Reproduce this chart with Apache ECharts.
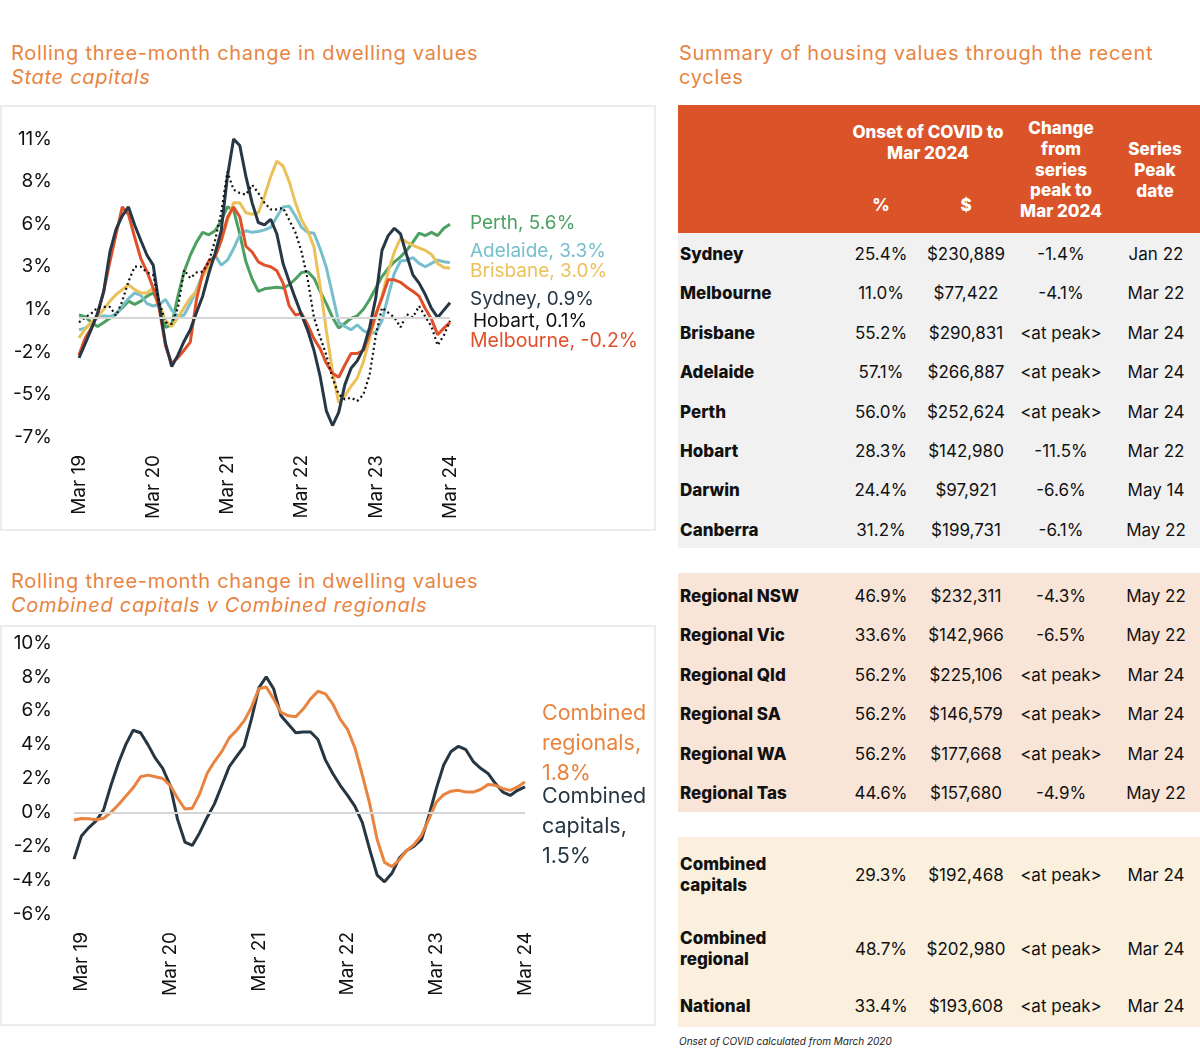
<!DOCTYPE html>
<html><head><meta charset="utf-8">
<script src="https://cdn.jsdelivr.net/npm/echarts/dist/echarts.min.js"></script>
<style>
html,body{margin:0;padding:0;background:#fff;}
#wrap{position:relative;width:1200px;height:1052px;overflow:hidden;font-family:Inter,"Noto Sans",sans-serif;color:#111;}
.panel{position:absolute;box-sizing:border-box;border:2px solid #ececec;}
#chart{position:absolute;left:0;top:0;width:660px;height:1052px;}
.title{position:absolute;font-size:20px;line-height:24px;color:#E8843F;white-space:nowrap;letter-spacing:0.7px;}
.title i{font-style:italic;}
.sec{position:absolute;left:678px;width:522px;}
.row{position:absolute;left:678px;width:522px;height:24px;line-height:24px;font-size:17px;}
.cell{position:absolute;top:0;transform:translateX(-50%);white-space:nowrap;}
.name{position:absolute;left:2px;top:0;font-weight:800;white-space:nowrap;}
.hd{position:absolute;color:#fff;font-weight:800;font-size:17px;line-height:20.8px;text-align:center;transform:translateX(-50%);white-space:nowrap;}
.foot{position:absolute;left:679px;top:1035px;font-size:10px;font-style:italic;color:#222;}
</style>
</head><body>
<div id="wrap">
  <div class="panel" style="left:0;top:105px;width:656px;height:426px;"></div>
  <div class="panel" style="left:0;top:625px;width:656px;height:401px;"></div>
  <div class="title" style="left:11px;top:41px;">Rolling three-month change in dwelling values<br><i>State capitals</i></div>
  <div class="title" style="left:11px;top:569px;">Rolling three-month change in dwelling values<br><i>Combined capitals v Combined regionals</i></div>
  <div class="title" style="left:679px;top:41px;">Summary of housing values through the recent<br>cycles</div>
  <div id="chart"></div>
  <div id="table"></div>
  <div class="foot">Onset of COVID calculated from March 2020</div>
</div>
<script>
// ---------- chart data ----------
const monthNames = ['Jan','Feb','Mar','Apr','May','Jun','Jul','Aug','Sep','Oct','Nov','Dec'];
function monthLabels(year, monthIdx, n) {
  const out = [];
  for (let k = 0; k < n; k++) {
    const m = (monthIdx + k) % 12, y = year + Math.floor((monthIdx + k) / 12);
    out.push(monthNames[m] + ' ' + String(y % 100).padStart(2, '0'));
  }
  return out;
}
const capitalMonths = monthLabels(2019, 2, 61);   // Mar 19 .. Mar 24
const combinedMonths = monthLabels(2019, 1, 62);  // Feb 19 .. Mar 24

const sydney = [-2.47,-1.6,-0.7,0.25,1.6,4.0,5.4,6.2,6.75,5.65,
  4.7,3.8,3.2,0.7,-1.6,-3.0,-2.3,-1.45,-0.75,0.3,
  1.3,2.7,3.9,5.3,8.6,10.9,10.5,8.6,7.0,5.8,
  5.65,6.0,5.1,3.3,2.2,1.15,0.15,-0.8,-2.0,-3.6,
  -5.7,-6.6,-5.8,-4.1,-3.1,-2.65,-1.9,-0.6,1.2,4.1,
  5.0,5.45,5.1,3.8,2.6,2.1,1.4,0.55,0.0,0.45,0.9];
const melbourne = [-2.3,-1.25,-0.65,0.2,1.6,3.4,5.1,6.75,6.3,4.9,
  3.6,2.8,1.8,0.5,-1.75,-2.8,-2.45,-2.0,-1.5,1.1,
  2.7,3.45,3.7,4.7,6.1,6.75,6.15,4.35,4.0,3.4,
  3.2,3.1,2.85,2.1,0.7,0.15,0.25,-0.45,-1.3,-1.9,
  -2.8,-3.4,-3.65,-2.9,-2.2,-2.2,-2.0,-1.0,0.2,1.2,
  2.3,2.3,2.15,1.85,1.6,1.3,0.55,-0.1,-1.05,-0.65,-0.3];
const brisbane = [-1.25,-0.7,-0.3,0.05,0.5,1.0,1.4,1.7,2.0,1.7,
  1.5,1.5,1.8,0.8,-0.2,-0.55,0.0,0.6,1.2,1.6,
  2.5,3.1,3.7,4.7,5.9,7.0,7.0,6.4,6.3,6.4,
  7.4,8.6,9.55,9.25,8.3,7.0,5.95,5.3,4.3,1.9,
  -0.8,-3.3,-5.2,-4.8,-4.2,-3.7,-2.7,-1.3,0.1,1.3,
  2.8,4.0,4.85,4.6,4.4,4.25,4.1,3.85,3.3,3.05,3.0];
const adelaide = [-0.75,-0.65,-0.35,0.0,0.1,0.05,0.2,0.7,1.15,1.5,
  1.35,0.85,0.7,0.8,1.1,0.45,0.05,0.15,0.85,1.7,
  2.6,3.4,3.8,3.2,3.5,4.2,5.05,5.3,5.2,5.25,
  5.35,5.5,6.15,6.75,6.8,6.2,5.5,5.2,5.15,4.2,
  3.05,1.4,-0.3,-0.55,-0.75,-0.45,-0.8,-1.0,-0.9,-0.2,
  1.3,2.7,3.45,3.5,3.65,3.3,3.1,3.3,3.5,3.4,3.35];
const perth = [0.15,0.05,-0.3,-0.55,-0.3,-0.05,0.25,0.6,1.0,0.8,
  1.0,1.3,1.5,0.85,-0.6,-0.45,1.3,2.8,3.8,4.6,
  5.2,5.05,5.3,5.9,6.75,6.55,5.1,3.4,2.35,1.6,
  1.75,1.8,1.85,1.8,2.0,2.35,2.75,2.8,2.4,1.6,
  0.85,0.0,-0.65,-0.35,-0.05,0.1,0.5,1.1,1.8,2.5,
  3.0,3.4,3.7,4.1,4.6,5.15,5.0,5.2,5.0,5.45,5.7];
const hobart = [-0.3,0.0,0.25,0.6,0.65,0.65,0.1,1.0,2.2,3.1,
  3.1,2.75,2.6,0.9,-0.3,-0.4,0.6,2.9,2.4,2.75,
  2.8,3.4,4.7,6.4,8.9,7.8,7.6,7.5,8.1,7.6,
  7.0,6.6,6.6,6.7,5.95,5.2,4.0,2.3,0.0,-1.2,
  -2.3,-3.7,-4.7,-5.0,-4.9,-5.1,-4.7,-3.5,-1.1,0.6,
  0.3,0.0,-0.6,0.2,0.0,0.7,0.05,-0.55,-1.7,-1.1,-0.2];
const capitalLabels = ['Perth, 5.6%','Adelaide, 3.3%','Brisbane, 3.0%','Sydney, 0.9%','Hobart, 0.1%','Melbourne, -0.2%'];

const combinedCapitals = [-2.76,-1.4,-0.9,-0.5,0.15,1.6,2.9,4.0,4.85,4.7,
  4.0,3.2,2.6,1.6,-0.4,-1.75,-1.95,-1.2,-0.3,0.5,
  1.6,2.7,3.3,3.9,5.5,7.35,8.0,7.3,5.7,5.2,
  4.7,4.75,4.75,4.3,3.1,2.3,1.6,1.0,0.35,-0.6,
  -2.2,-3.7,-4.1,-3.6,-2.7,-2.25,-2.0,-1.6,-0.2,1.4,
  2.8,3.6,3.9,3.7,3.0,2.6,2.3,1.7,1.2,1.0,
  1.3,1.5];
const combinedRegionals = [-0.45,-0.36,-0.38,-0.44,-0.35,0.0,0.45,0.95,1.45,2.1,
  2.2,2.1,2.0,1.6,0.85,0.2,0.25,1.1,2.3,3.0,
  3.6,4.4,4.85,5.4,6.2,7.3,7.4,6.7,5.9,5.7,
  5.65,6.1,6.7,7.15,7.0,6.4,5.5,4.9,3.8,2.2,
  0.5,-1.6,-2.95,-3.2,-2.8,-2.25,-1.9,-1.35,-0.4,0.6,
  1.05,1.25,1.3,1.2,1.2,1.35,1.65,1.6,1.4,1.3,
  1.5,1.8];
const combinedLabels = ['Combined\nregionals,\n1.8%','Combined\ncapitals,\n1.5%'];

// ---------- table data ----------
const tableHeader = {onset:'Onset of COVID to\nMar 2024', pct:'%', dollar:'$', change:'Change\nfrom\nseries\npeak to\nMar 2024', peak:'Series\nPeak\ndate'};
const capitalRows = [
  ['Sydney','25.4%','$230,889','-1.4%','Jan 22'],
  ['Melbourne','11.0%','$77,422','-4.1%','Mar 22'],
  ['Brisbane','55.2%','$290,831','<at peak>','Mar 24'],
  ['Adelaide','57.1%','$266,887','<at peak>','Mar 24'],
  ['Perth','56.0%','$252,624','<at peak>','Mar 24'],
  ['Hobart','28.3%','$142,980','-11.5%','Mar 22'],
  ['Darwin','24.4%','$97,921','-6.6%','May 14'],
  ['Canberra','31.2%','$199,731','-6.1%','May 22']
];
const regionalRows = [
  ['Regional NSW','46.9%','$232,311','-4.3%','May 22'],
  ['Regional Vic','33.6%','$142,966','-6.5%','May 22'],
  ['Regional Qld','56.2%','$225,106','<at peak>','Mar 24'],
  ['Regional SA','56.2%','$146,579','<at peak>','Mar 24'],
  ['Regional WA','56.2%','$177,668','<at peak>','Mar 24'],
  ['Regional Tas','44.6%','$157,680','-4.9%','May 22']
];
const aggregateRows = [
  ['Combined\ncapitals','29.3%','$192,468','<at peak>','Mar 24'],
  ['Combined\nregional','48.7%','$202,980','<at peak>','Mar 24'],
  ['National','33.4%','$193,608','<at peak>','Mar 24']
];

// ---------- chart ----------
const FONT = 'Inter, "Noto Sans", sans-serif';
const cSyd='#263746', cMel='#E0512B', cBri='#EBC159', cAde='#77BFCD', cPer='#4CA061', cHob='#111111';
const cCap='#263743', cReg='#E8843F';

function lineSeries(name, data, color, label, offY, grid, extra) {
  return Object.assign({
    name: name, type: 'line', data: data, xAxisIndex: grid, yAxisIndex: grid,
    showSymbol: false, symbol: 'none', smooth: false, silent: true,
    lineStyle: {color: color, width: 3},
    endLabel: {show: true, formatter: label, color: color, fontSize: 19, fontFamily: FONT,
      distance: 20, offset: [0, offY], lineHeight: 30}
  }, extra || {});
}

const chart = echarts.init(document.getElementById('chart'), null, {renderer: 'canvas'});
const zeroLine = {silent: true, symbol: 'none', label: {show: false},
  lineStyle: {color: '#d6d6d6', width: 2, type: 'solid'}, data: [{yAxis: 0}]};

const option = {
  animation: false,
  grid: [
    {left: 79, top: 139, width: 371, height: 298},
    {left: 74, top: 643, width: 451, height: 271}
  ],
  xAxis: [
    {type: 'category', gridIndex: 0, data: capitalMonths, boundaryGap: false,
     axisLine: {show: false}, axisTick: {show: false}, splitLine: {show: false},
     axisLabel: {rotate: 90, margin: 18, fontSize: 19, color: '#111', fontFamily: FONT,
       interval: (i, v) => v.startsWith('Mar')}},
    {type: 'category', gridIndex: 1, data: combinedMonths, boundaryGap: false,
     axisLine: {show: false}, axisTick: {show: false}, splitLine: {show: false},
     axisLabel: {rotate: 90, margin: 18, fontSize: 19, color: '#111', fontFamily: FONT,
       interval: (i, v) => v.startsWith('Mar')}}
  ],
  yAxis: [
    {type: 'value', gridIndex: 0, min: -7.3, max: 10.9, interval: 2.6,
     axisLine: {show: false}, axisTick: {show: false}, splitLine: {show: false},
     axisLabel: {margin: 27, fontSize: 19, color: '#111', fontFamily: FONT,
       formatter: v => Math.round(v + 1e-9) + '%'}},
    {type: 'value', gridIndex: 1, min: -6, max: 10, interval: 2,
     axisLine: {show: false}, axisTick: {show: false}, splitLine: {show: false},
     axisLabel: {margin: 22, fontSize: 19, color: '#111', fontFamily: FONT,
       formatter: v => Math.round(v) + '%'}}
  ],
  series: [
    lineSeries('Perth', perth, cPer, capitalLabels[0], -1, 0, {markLine: zeroLine, z: 2}),
    lineSeries('Adelaide', adelaide, cAde, capitalLabels[1], -11, 0, {z: 2}),
    lineSeries('Brisbane', brisbane, cBri, capitalLabels[2], 3, 0, {z: 2}),
    lineSeries('Melbourne', melbourne, cMel, capitalLabels[5], 19, 0, {z: 3}),
    lineSeries('Sydney', sydney, cSyd, capitalLabels[3], -3, 0, {z: 3}),
    lineSeries('Hobart', hobart, cHob, capitalLabels[4], 1, 0, {z: 4,
      lineStyle: {color: cHob, width: 2.2, type: [2, 3]}}),
    lineSeries('Combined capitals', combinedCapitals, cCap, combinedLabels[1], 40, 1, {markLine: zeroLine}),
    lineSeries('Combined regionals', combinedRegionals, cReg, combinedLabels[0], -38, 1, {z: 3})
  ]
};
option.series[3].endLabel.fontSize = 19.5;
option.series[6].endLabel.fontSize = 21.5; option.series[6].endLabel.distance = 17;
option.series[7].endLabel.fontSize = 21.5; option.series[7].endLabel.distance = 17;
option.series[5].endLabel.distance = 23;
chart.setOption(option);

// ---------- table ----------
const T = document.getElementById('table');
function add(html) { T.insertAdjacentHTML('beforeend', html); }
function esc(s) { return s.replace(/&/g,'&amp;').replace(/</g,'&lt;').replace(/>/g,'&gt;').replace(/\n/g,'<br>'); }
add('<div class="sec" style="top:105px;height:128px;background:#DB5328"></div>');
add('<div class="sec" style="top:233px;height:315px;background:#F1F1F1"></div>');
add('<div class="sec" style="top:573px;height:239px;background:#F9E4D8"></div>');
add('<div class="sec" style="top:837px;height:190px;background:#FAF0DD"></div>');
add('<div class="hd" style="left:928px;top:122px">' + esc(tableHeader.onset) + '</div>');
add('<div class="hd" style="left:881px;top:195px">' + esc(tableHeader.pct) + '</div>');
add('<div class="hd" style="left:966px;top:195px">' + esc(tableHeader.dollar) + '</div>');
add('<div class="hd" style="left:1061px;top:118px">' + esc(tableHeader.change) + '</div>');
add('<div class="hd" style="left:1155px;top:139px">' + esc(tableHeader.peak) + '</div>');
const colX = [881, 966, 1061, 1156];
function addRow(r, yc, nameLH) {
  let h = '<div class="row" style="top:' + (yc - 12) + 'px">';
  const lines = r[0].split('\n');
  if (lines.length > 1) {
    h += '<div class="name" style="top:' + (12 - lines.length * nameLH / 2) + 'px;line-height:' + nameLH + 'px">' + esc(r[0]) + '</div>';
  } else {
    h += '<div class="name">' + esc(r[0]) + '</div>';
  }
  for (let c = 1; c < 5; c++) h += '<div class="cell" style="left:' + (colX[c-1] - 678) + 'px">' + esc(r[c]) + '</div>';
  h += '</div>';
  add(h);
}
capitalRows.forEach((r, k) => addRow(r, 254 + k * 39.4, 21));
regionalRows.forEach((r, k) => addRow(r, 596 + k * 39.4, 21));
const aggY = [875, 949, 1006];
aggregateRows.forEach((r, k) => addRow(r, aggY[k], 21));
</script>
</body></html>
